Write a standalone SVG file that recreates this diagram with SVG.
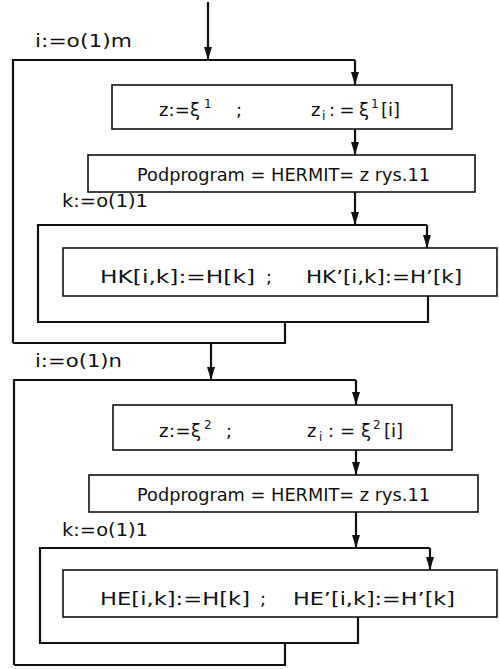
<svg xmlns="http://www.w3.org/2000/svg" width="499" height="669" viewBox="0 0 499 669">
  <style>
    .box { fill: #fff; stroke: #111; stroke-width: 1.6; }
    .wire { fill: none; stroke: #111; stroke-width: 2.2; stroke-linejoin: miter; }
    .arr { fill: none; stroke: #111; stroke-width: 2.2; marker-end: url(#head); }
    text { font-family: "DejaVu Sans", "Liberation Sans", sans-serif; font-size: 17px; fill: #111; }
    .big { font-size: 18px; }
    .sup { font-size: 12px; }
  </style>
  <defs>
    <!-- narrow filled arrowhead, drawn along +x so orient="auto" turns it with the line -->
    <marker id="head" markerWidth="13" markerHeight="8" refX="13" refY="4" orient="auto" markerUnits="userSpaceOnUse" viewBox="0 0 13 8">
      <path d="M0,0 L13,4 L0,8 Z" fill="#111"/>
    </marker>
  </defs>

  <!-- flow lines and loop returns -->
  <g id="connectors">
    <!-- entry -->
    <line class="arr" x1="208" y1="2" x2="208" y2="60"/>
    <!-- outer loop 1 -->
    <polyline class="wire" points="13,343 13,60 355,60"/>
    <line class="arr" x1="355" y1="60" x2="355" y2="85"/>
    <line class="arr" x1="355" y1="129" x2="355" y2="155"/>
    <line class="arr" x1="355" y1="192" x2="355" y2="225"/>
    <!-- inner loop 1 -->
    <polyline class="wire" points="428,296 428,322 38,322 38,225 427,225"/>
    <line class="arr" x1="427" y1="225" x2="427" y2="248"/>
    <polyline class="wire" points="285,322 285,343 13,343"/>
    <!-- exit to second part -->
    <line class="arr" x1="211" y1="343" x2="211" y2="380"/>
    <!-- outer loop 2 -->
    <polyline class="wire" points="14,665 14,380 356,380"/>
    <line class="arr" x1="356" y1="380" x2="356" y2="405"/>
    <line class="arr" x1="356" y1="450" x2="356" y2="475"/>
    <line class="arr" x1="356" y1="512" x2="356" y2="548"/>
    <!-- inner loop 2 -->
    <polyline class="wire" points="358,617 358,643 40,643 40,548 430,548"/>
    <line class="arr" x1="430" y1="548" x2="430" y2="570"/>
    <polyline class="wire" points="285,643 285,665 14,665"/>
  </g>

  <!-- loop headers -->
  <g id="label-i-m"><text x="35" y="47" textLength="97" lengthAdjust="spacingAndGlyphs">i:=o(1)m</text></g>
  <g id="label-k-1"><text x="62" y="207" textLength="86" lengthAdjust="spacingAndGlyphs">k:=o(1)1</text></g>
  <g id="label-i-n"><text x="35" y="367" textLength="87" lengthAdjust="spacingAndGlyphs">i:=o(1)n</text></g>
  <g id="label-k-1b"><text x="62" y="536" textLength="86" lengthAdjust="spacingAndGlyphs">k:=o(1)1</text></g>

  <!-- first block -->
  <g id="box-z1">
    <rect class="box" x="112" y="85" width="340" height="44"/>
    <text class="big" y="116"><tspan x="159" textLength="41" lengthAdjust="spacing">z:=ξ</tspan><tspan class="sup" x="204" y="108">1</tspan><tspan x="236" y="116">;</tspan></text>
    <text class="big" y="116"><tspan x="311">z</tspan><tspan class="sup" x="322" y="120">i</tspan><tspan x="329" y="116" textLength="40" lengthAdjust="spacing">:=ξ</tspan><tspan class="sup" x="371" y="108">1</tspan><tspan x="381" y="116">[i]</tspan></text>
  </g>
  <g id="box-hermit1">
    <rect class="box" x="88" y="155" width="387" height="37"/>
    <text x="137" y="181" textLength="293" lengthAdjust="spacingAndGlyphs">Podprogram = HERMIT= z rys.11</text>
  </g>
  <g id="box-hk">
    <rect class="box" x="63" y="248" width="434" height="48"/>
    <text class="big" y="283"><tspan x="100" textLength="155" lengthAdjust="spacingAndGlyphs">HK[i,k]:=H[k]</tspan><tspan x="266">;</tspan><tspan x="306" textLength="156" lengthAdjust="spacingAndGlyphs">HK’[i,k]:=H’[k]</tspan></text>
  </g>

  <!-- second block -->
  <g id="box-z2">
    <rect class="box" x="113" y="405" width="339" height="45"/>
    <text class="big" y="437"><tspan x="159" textLength="42" lengthAdjust="spacing">z:=ξ</tspan><tspan class="sup" x="204" y="429">2</tspan><tspan x="226" y="437">;</tspan></text>
    <text class="big" y="437"><tspan x="307">z</tspan><tspan class="sup" x="319" y="441">i</tspan><tspan x="328" y="437" textLength="43" lengthAdjust="spacing">:=ξ</tspan><tspan class="sup" x="373" y="429">2</tspan><tspan x="384" y="437">[i]</tspan></text>
  </g>
  <g id="box-hermit2">
    <rect class="box" x="89" y="475" width="389" height="37"/>
    <text x="137" y="501" textLength="293" lengthAdjust="spacingAndGlyphs">Podprogram = HERMIT= z rys.11</text>
  </g>
  <g id="box-he">
    <rect class="box" x="63" y="570" width="434" height="47"/>
    <text class="big" y="605"><tspan x="100" textLength="150" lengthAdjust="spacingAndGlyphs">HE[i,k]:=H[k]</tspan><tspan x="260">;</tspan><tspan x="293" textLength="162" lengthAdjust="spacingAndGlyphs">HE’[i,k]:=H’[k]</tspan></text>
  </g>
</svg>
